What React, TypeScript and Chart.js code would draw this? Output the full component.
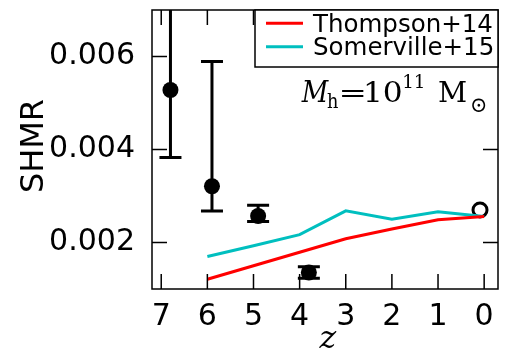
import React, { useEffect, useRef } from "react";
import { Chart, registerables } from "chart.js";

Chart.register(...registerables);

// ---- data ----
const zTicks = [7, 6, 5, 4, 3, 2, 1, 0];
const shmrTicks = [0.002, 0.004, 0.006];

const obsZ = [6.8, 5.9, 4.9, 3.8];
const obsShmr = [0.00528, 0.00321, 0.00257, 0.001355];
const obsErrLow = [0.00383, 0.00268, 0.00245, 0.00123];
const obsErrHigh = [0.008, 0.00589, 0.0028, 0.00148];

const localZ = [0.09];
const localShmr = [0.0027];

const modelZ = [6, 5, 4, 3, 2, 1, 0];
const thompson14 = [0.00121, 0.0015, 0.00179, 0.00208, 0.00229, 0.00249, 0.00256];
const somerville15 = [0.0017, 0.00193, 0.00217, 0.00268, 0.0025, 0.00266, 0.00256];

const legendLabels = ["Thompson+14", "Somerville+15"];
const legendColors = ["#ff0000", "#00bfbf"];

const toXY = (xs: number[], ys: number[]) => xs.map((x, i) => ({ x, y: ys[i] }));

// draw text so that its ink fits the box [x0,x1]x[y0,y1]
function fitText(ctx: CanvasRenderingContext2D, text: string, font: string, x0: number, x1: number, y0: number, y1: number) {
  ctx.save();
  ctx.font = font;
  ctx.textAlign = "left";
  ctx.textBaseline = "alphabetic";
  const m = ctx.measureText(text);
  const w = m.actualBoundingBoxLeft + m.actualBoundingBoxRight;
  const h = m.actualBoundingBoxAscent + m.actualBoundingBoxDescent;
  ctx.translate(x0, y0);
  ctx.scale((x1 - x0) / w, (y1 - y0) / h);
  ctx.fillText(text, m.actualBoundingBoxLeft, m.actualBoundingBoxAscent);
  ctx.restore();
}

export default function App() {
  const ref = useRef<HTMLCanvasElement | null>(null);

  useEffect(() => {
    if (!ref.current) return;

    const errorBars = {
      id: "errorBars",
      beforeDatasetsDraw(chart: any) {
        const { ctx, chartArea } = chart;
        const xs = chart.scales.x;
        const ys = chart.scales.y;
        ctx.save();
        ctx.beginPath();
        ctx.rect(chartArea.left, chartArea.top, chartArea.right - chartArea.left, chartArea.bottom - chartArea.top);
        ctx.clip();
        ctx.strokeStyle = "#000";
        ctx.lineWidth = 3;
        obsZ.forEach((z, i) => {
          const px = xs.getPixelForValue(z);
          const lo = ys.getPixelForValue(obsErrLow[i]);
          const hi = ys.getPixelForValue(obsErrHigh[i]);
          ctx.beginPath();
          ctx.moveTo(px, lo);
          ctx.lineTo(px, hi);
          ctx.moveTo(px - 11, lo);
          ctx.lineTo(px + 11, lo);
          ctx.moveTo(px - 11, hi);
          ctx.lineTo(px + 11, hi);
          ctx.stroke();
        });
        ctx.restore();
      },
    };

    const frame = {
      id: "frame",
      afterDatasetsDraw(chart: any) {
        const { ctx, chartArea } = chart;
        const { left, right, top, bottom } = chartArea;
        const xs = chart.scales.x;
        const ys = chart.scales.y;
        ctx.save();
        ctx.strokeStyle = "#000";
        ctx.lineWidth = 1.5;
        ctx.strokeRect(left, top, right - left, bottom - top);
        const tl = 15;
        ctx.beginPath();
        zTicks.forEach((z) => {
          const px = xs.getPixelForValue(z);
          ctx.moveTo(px, bottom);
          ctx.lineTo(px, bottom - tl);
          ctx.moveTo(px, top);
          ctx.lineTo(px, top + tl);
        });
        shmrTicks.forEach((v) => {
          const py = ys.getPixelForValue(v);
          ctx.moveTo(left, py);
          ctx.lineTo(left + tl, py);
          ctx.moveTo(right, py);
          ctx.lineTo(right - tl, py);
        });
        ctx.stroke();

        // legend
        const lx = 255;
        const ly = top;
        ctx.fillStyle = "#fff";
        ctx.fillRect(lx, ly, right - lx, 57);
        ctx.strokeRect(lx, ly, right - lx, 57);
        ctx.font = '24.5px "DejaVu Sans"';
        ctx.textBaseline = "alphabetic";
        ctx.textAlign = "left";
        const rows = [23.3, 46.7];
        legendLabels.forEach((lab, i) => {
          ctx.strokeStyle = legendColors[i];
          ctx.lineWidth = 3;
          ctx.beginPath();
          ctx.moveTo(266, rows[i]);
          ctx.lineTo(303, rows[i]);
          ctx.stroke();
          ctx.fillStyle = "#000";
          ctx.fillText(lab, 313, rows[i] + 8.5);
        });

        // annotation  M_h = 10^11 M_sun
        ctx.fillStyle = "#000";
        fitText(ctx, "M", 'italic 30px "DejaVu Serif"', 301, 329.5, 80, 101.5);
        fitText(ctx, "h", '20px "DejaVu Serif"', 327, 338.5, 92, 107.5);
        fitText(ctx, "=", '30px "DejaVu Serif"', 342, 363.5, 90.5, 97.5);
        fitText(ctx, "10", '30px "DejaVu Serif"', 366, 401.5, 81, 101.5);
        fitText(ctx, "11", '20px "DejaVu Serif"', 404, 423, 75, 88.3);
        fitText(ctx, "M", '30px "DejaVu Serif"', 439, 466.5, 80.5, 101.5);
        fitText(ctx, "\u2299", '20px "DejaVu Serif"', 472, 485.5, 98, 112);

        // axis titles
        fitText(ctx, "z", 'italic 30px "DejaVu Serif"', 318.5, 336.5, 331, 348.3);

        ctx.save();
        ctx.translate(42.5, 146);
        ctx.rotate(-Math.PI / 2);
        ctx.font = '32px "DejaVu Sans"';
        ctx.textAlign = "center";
        ctx.textBaseline = "alphabetic";
        ctx.fillText("SHMR", 0, 0);
        ctx.restore();

        ctx.restore();
      },
    };

    const chart = new Chart(ref.current, {
      type: "scatter",
      data: {
        datasets: [
          {
            label: legendLabels[0],
            data: toXY(modelZ, thompson14),
            showLine: true,
            borderColor: legendColors[0],
            borderWidth: 3,
            pointRadius: 0,
            fill: false,
          },
          {
            label: legendLabels[1],
            data: toXY(modelZ, somerville15),
            showLine: true,
            borderColor: legendColors[1],
            borderWidth: 3,
            pointRadius: 0,
            fill: false,
          },
          {
            label: "obs",
            data: toXY(obsZ, obsShmr),
            pointRadius: 8,
            pointBorderWidth: 0,
            backgroundColor: "#000",
            borderColor: "#000",
          },
          {
            label: "local",
            data: toXY(localZ, localShmr),
            pointRadius: 7,
            pointBorderWidth: 3,
            backgroundColor: "rgba(0,0,0,0)",
            borderColor: "#000",
          },
        ],
      },
      options: {
        responsive: false,
        animation: false,
        devicePixelRatio: 1,
        layout: { padding: { top: 8, right: 11, left: 0, bottom: 0 } },
        plugins: { legend: { display: false }, tooltip: { enabled: false } },
        scales: {
          x: {
            type: "linear",
            reverse: true,
            min: -0.3,
            max: 7.2,
            grid: { display: false },
            border: { display: false },
            afterBuildTicks: (s: any) => {
              s.ticks = zTicks.map((v) => ({ value: v }));
            },
            afterFit: (s: any) => {
              s.height = 65;
              s.paddingLeft = 0;
              s.paddingRight = 0;
              s.paddingTop = 0;
              s.paddingBottom = 0;
            },
            ticks: {
              color: "#000",
              padding: 2,
              maxRotation: 0,
              font: { family: "DejaVu Sans", size: 30 },
              callback: (v: any) => String(v),
            },
          },
          y: {
            type: "linear",
            min: 0.001,
            max: 0.007,
            grid: { display: false },
            border: { display: false },
            afterBuildTicks: (s: any) => {
              s.ticks = shmrTicks.map((v) => ({ value: v }));
            },
            afterFit: (s: any) => {
              s.width = 152;
              s.paddingLeft = 0;
              s.paddingRight = 0;
              s.paddingTop = 0;
              s.paddingBottom = 0;
            },
            ticks: {
              color: "#000",
              padding: 9,
              font: { family: "DejaVu Sans", size: 30 },
              callback: (v: any) => Number(v).toFixed(3),
            },
          },
        },
      },
      plugins: [errorBars, frame],
    });

    return () => chart.destroy();
  }, []);

  return (
    <div style={{ position: "absolute", left: 0, top: 0, width: 509, height: 354, background: "#fff" }}>
      <canvas ref={ref} width={509} height={354} style={{ width: 509, height: 354, display: "block" }} />
    </div>
  );
}
